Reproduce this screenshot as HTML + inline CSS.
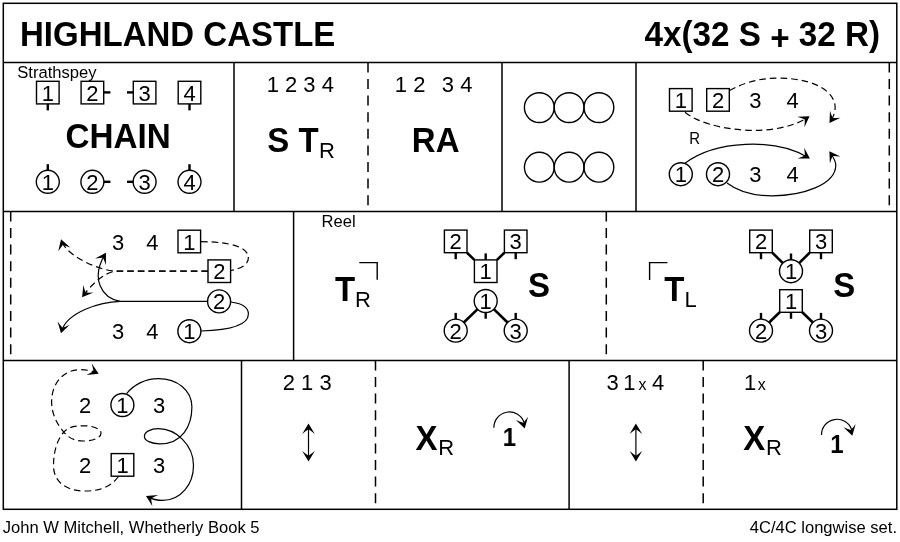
<!DOCTYPE html>
<html lang="en"><head><meta charset="utf-8"><title>Highland Castle</title>
<style>
html,body{margin:0;padding:0;background:#fff;}
svg{display:block;will-change:transform;}
text{font-family:"Liberation Sans", sans-serif;fill:#000;}
.fr{fill:none;stroke:#000;stroke-width:1.5;}
.da{fill:none;stroke:#000;stroke-width:1.5;stroke-dasharray:10 6.6;}
.ln{fill:none;stroke:#000;stroke-width:1.4;}
.cv{fill:none;stroke:#000;stroke-width:1.2;}
.dl{fill:none;stroke:#000;stroke-width:1.2;stroke-dasharray:6.6 4;}
.big{font-size:33px;font-weight:bold;}
.big2{font-size:33.25px;font-weight:bold;}
.n{font-size:22px;text-anchor:middle;}
.sub{font-size:22px;}
.sm{font-size:16.6px;}
.sm2{font-size:16.6px;}
.ft{font-size:16.58px;}
.r14{font-size:15px;}
.x13{font-size:16px;}
.b1{font-size:24px;font-weight:bold;}
</style></head>
<body>
<svg width="900" height="542" viewBox="0 0 900 542">
<defs>
<marker id="ah" markerUnits="userSpaceOnUse" markerWidth="16" markerHeight="16" viewBox="-12 -8 16 16" refX="-1.5" refY="0" orient="auto-start-reverse">
<path d="M0,0 L-10.5,6.3 Q-7,2 -5.8,0 Q-7,-2 -10.5,-6.3 Z" fill="#000"/>
</marker>
</defs>
<rect x="0" y="0" width="900" height="542" fill="#fff"/>
<rect x="3.3" y="3.3" width="893.5" height="506.0" class="fr"/>
<line x1="3.3" y1="62.4" x2="896.8" y2="62.4" class="fr"/>
<line x1="3.3" y1="211.4" x2="896.8" y2="211.4" class="fr"/>
<line x1="3.3" y1="360.4" x2="896.8" y2="360.4" class="fr"/>
<line x1="234" y1="62.4" x2="234" y2="211.4" class="fr"/>
<line x1="502" y1="62.4" x2="502" y2="211.4" class="fr"/>
<line x1="636" y1="62.4" x2="636" y2="211.4" class="fr"/>
<line x1="368" y1="62.4" x2="368" y2="211.4" class="da"/>
<line x1="889.3" y1="62.4" x2="889.3" y2="211.4" class="da"/>
<line x1="293.6" y1="211.4" x2="293.6" y2="360.4" class="fr"/>
<line x1="10.7" y1="211.4" x2="10.7" y2="360.4" class="da"/>
<line x1="606.3" y1="211.4" x2="606.3" y2="360.4" class="da"/>
<line x1="241.5" y1="360.4" x2="241.5" y2="509.3" class="fr"/>
<line x1="569.1" y1="360.4" x2="569.1" y2="509.3" class="fr"/>
<line x1="375.5" y1="360.4" x2="375.5" y2="509.3" class="da"/>
<line x1="703.2" y1="360.4" x2="703.2" y2="509.3" class="da"/>
<text transform="translate(20 46) scale(1 1.045)" class="big">HIGHLAND CASTLE</text>
<text transform="translate(880.1 46) scale(1 1.045)" class="big2" style="text-anchor:end">4x(32 S <tspan dy="4.1">+</tspan><tspan dy="-4.1"> 32 R)</tspan></text>
<text transform="translate(2.7 532.5) scale(1 1.045)" class="ft">John W Mitchell, Whetherly Book 5</text>
<text transform="translate(897 532.5) scale(1 1.045)" class="ft" style="text-anchor:end">4C/4C longwise set.</text>
<text transform="translate(17.2 77.7) scale(1 1.045)" class="sm">Strathspey</text>
<text transform="translate(321.6 226.7) scale(1 1.045)" class="sm2">Reel</text>
<rect x="36.50" y="81.30" width="22.6" height="22.6" class="ln"/>
<text transform="translate(47.8 100.6) scale(1 1.045)" class="n">1</text>
<circle cx="47.80" cy="181.80" r="11.5" class="ln"/>
<text transform="translate(47.8 189.8) scale(1 1.045)" class="n">1</text>
<rect x="81.10" y="81.30" width="22.6" height="22.6" class="ln"/>
<text transform="translate(92.4 100.6) scale(1 1.045)" class="n">2</text>
<circle cx="92.40" cy="181.80" r="11.5" class="ln"/>
<text transform="translate(92.4 189.8) scale(1 1.045)" class="n">2</text>
<rect x="133.30" y="81.30" width="22.6" height="22.6" class="ln"/>
<text transform="translate(144.6 100.6) scale(1 1.045)" class="n">3</text>
<circle cx="144.60" cy="181.80" r="11.5" class="ln"/>
<text transform="translate(144.6 189.8) scale(1 1.045)" class="n">3</text>
<rect x="178.20" y="81.30" width="22.6" height="22.6" class="ln"/>
<text transform="translate(189.5 100.6) scale(1 1.045)" class="n">4</text>
<circle cx="189.50" cy="181.80" r="11.5" class="ln"/>
<text transform="translate(189.5 189.8) scale(1 1.045)" class="n">4</text>
<line x1="47.80" y1="104.00" x2="47.80" y2="110.40" stroke="#000" stroke-width="2.4"/>
<line x1="189.50" y1="104.00" x2="189.50" y2="110.40" stroke="#000" stroke-width="2.4"/>
<line x1="104.00" y1="92.40" x2="110.40" y2="92.40" stroke="#000" stroke-width="2.4"/>
<line x1="127.00" y1="92.40" x2="133.30" y2="92.40" stroke="#000" stroke-width="2.4"/>
<line x1="47.80" y1="164.20" x2="47.80" y2="170.30" stroke="#000" stroke-width="2.4"/>
<line x1="189.50" y1="164.20" x2="189.50" y2="170.30" stroke="#000" stroke-width="2.4"/>
<line x1="104.00" y1="181.80" x2="110.40" y2="181.80" stroke="#000" stroke-width="2.4"/>
<line x1="127.00" y1="181.80" x2="133.30" y2="181.80" stroke="#000" stroke-width="2.4"/>
<text transform="translate(118.2 147.5) scale(1 1.045)" class="big2" style="text-anchor:middle">CHAIN</text>
<text transform="translate(300.3 92.4) scale(1 1.045)" class="n">1 2 3 4</text>
<text transform="translate(267.3 152) scale(1 1.045)" class="big">S T</text>
<text transform="translate(319 157.7) scale(1 1.045)" class="sub">R</text>
<text transform="translate(394.8 92.4) scale(1 1.045)" class="n" style="text-anchor:start">1 2</text>
<text transform="translate(472.4 92.4) scale(1 1.045)" class="n" style="text-anchor:end">3 4</text>
<text transform="translate(435.7 152) scale(1 1.045)" class="big" style="text-anchor:middle">RA</text>
<circle cx="539.3" cy="107.6" r="14.9" class="ln"/>
<circle cx="569.1" cy="107.6" r="14.9" class="ln"/>
<circle cx="598.9" cy="107.6" r="14.9" class="ln"/>
<circle cx="539.3" cy="167.2" r="14.9" class="ln"/>
<circle cx="569.1" cy="167.2" r="14.9" class="ln"/>
<circle cx="598.9" cy="167.2" r="14.9" class="ln"/>
<rect x="669.50" y="88.60" width="22.6" height="22.6" class="ln"/>
<text transform="translate(680.8 107.9) scale(1 1.045)" class="n">1</text>
<rect x="706.70" y="88.60" width="22.6" height="22.6" class="ln"/>
<text transform="translate(718 107.9) scale(1 1.045)" class="n">2</text>
<text transform="translate(755.3 107.9) scale(1 1.045)" class="n">3</text>
<text transform="translate(792.6 107.9) scale(1 1.045)" class="n">4</text>
<circle cx="680.80" cy="174.20" r="11.5" class="ln"/>
<text transform="translate(680.8 182.2) scale(1 1.045)" class="n">1</text>
<circle cx="718.00" cy="174.20" r="11.5" class="ln"/>
<text transform="translate(718 182.2) scale(1 1.045)" class="n">2</text>
<text transform="translate(755.3 182.2) scale(1 1.045)" class="n">3</text>
<text transform="translate(792.6 182.2) scale(1 1.045)" class="n">4</text>
<text transform="translate(689.3 144.3) scale(1 1.045)" class="r14">R</text>
<path d="M729.5,90.5 C744,82.5 760,78.1 778,78.1 C800,78.1 818,83 828,92.5 C836,100 838,110 830.3,121.7" class="dl" marker-end="url(#ah)"/>
<path d="M685,112.3 C708,131.2 776,139 808.3,117" class="dl" marker-end="url(#ah)"/>
<path d="M685,163.3 C715,140.5 775,137.5 808.6,157.8" class="cv" marker-end="url(#ah)"/>
<path d="M727,183 C738,191.5 753,195.8 772,195.8 C802,195.8 835.8,185 835.8,165 C835.8,161.5 833.5,157.5 830.2,152.5" class="cv" marker-end="url(#ah)"/>
<text transform="translate(118 249.5) scale(1 1.045)" class="n">3</text>
<text transform="translate(152.4 249.5) scale(1 1.045)" class="n">4</text>
<rect x="178.00" y="230.20" width="22.6" height="22.6" class="ln"/>
<text transform="translate(189.3 249.5) scale(1 1.045)" class="n">1</text>
<rect x="208.00" y="259.90" width="22.6" height="22.6" class="ln"/>
<text transform="translate(219.3 279.2) scale(1 1.045)" class="n">2</text>
<circle cx="219.10" cy="301.40" r="11.5" class="ln"/>
<text transform="translate(219.1 309.4) scale(1 1.045)" class="n">2</text>
<text transform="translate(118 339.2) scale(1 1.045)" class="n">3</text>
<text transform="translate(152.4 339.2) scale(1 1.045)" class="n">4</text>
<circle cx="189.40" cy="331.20" r="11.5" class="ln"/>
<text transform="translate(189.4 339.2) scale(1 1.045)" class="n">1</text>
<path d="M201,241.7 C232,241.7 248.4,248 248.4,257.5 C248.4,264 243,268 231,270.5" class="dl"/>
<path d="M208,271.1 L116,271.1 C100,271.1 66.3,255.8 61.5,240.8" class="dl" marker-end="url(#ah)"/>
<path d="M208,271.1 L118,271.1 C105,271.1 92,284 83,296" class="dl" marker-end="url(#ah)"/>
<path d="M201,331 C232,330 248.4,324 248.4,314 C248.4,307 243,303.5 230.7,302" class="cv"/>
<path d="M207.5,301.4 L120,301.4" class="cv"/>
<path d="M120,301.4 C102,298 90,279 105.2,254" class="cv" marker-end="url(#ah)"/>
<path d="M120,301.4 C101,301.8 66.5,312 61.4,331.8" class="cv" marker-end="url(#ah)"/>
<rect x="444.40" y="230.10" width="22.6" height="22.6" class="ln"/>
<text transform="translate(455.7 249.4) scale(1 1.045)" class="n">2</text>
<rect x="504.40" y="230.10" width="22.6" height="22.6" class="ln"/>
<text transform="translate(515.7 249.4) scale(1 1.045)" class="n">3</text>
<line x1="455.70" y1="252.70" x2="455.70" y2="259.20" stroke="#000" stroke-width="2.4"/>
<line x1="515.70" y1="252.70" x2="515.70" y2="259.20" stroke="#000" stroke-width="2.4"/>
<circle cx="455.70" cy="330.60" r="11.5" class="ln"/>
<text transform="translate(455.7 338.6) scale(1 1.045)" class="n">2</text>
<circle cx="515.70" cy="330.60" r="11.5" class="ln"/>
<text transform="translate(515.7 338.6) scale(1 1.045)" class="n">3</text>
<line x1="455.70" y1="319.10" x2="455.70" y2="312.90" stroke="#000" stroke-width="2.4"/>
<line x1="515.70" y1="319.10" x2="515.70" y2="312.90" stroke="#000" stroke-width="2.4"/>
<rect x="474.40" y="259.90" width="22.6" height="22.6" class="ln"/>
<text transform="translate(485.7 279.2) scale(1 1.045)" class="n">1</text>
<circle cx="485.70" cy="301.00" r="11.5" class="ln"/>
<text transform="translate(485.7 309) scale(1 1.045)" class="n">1</text>
<line x1="485.70" y1="259.90" x2="485.70" y2="253.40" stroke="#000" stroke-width="2.4"/>
<line x1="485.70" y1="312.50" x2="485.70" y2="318.70" stroke="#000" stroke-width="2.4"/>
<line x1="467.00" y1="252.70" x2="474.40" y2="259.90" stroke="#000" stroke-width="2.6"/>
<line x1="504.40" y1="252.70" x2="497.00" y2="259.90" stroke="#000" stroke-width="2.6"/>
<line x1="477.60" y1="309.10" x2="463.80" y2="322.50" stroke="#000" stroke-width="2.6"/>
<line x1="493.80" y1="309.10" x2="507.60" y2="322.50" stroke="#000" stroke-width="2.6"/>
<rect x="749.70" y="230.10" width="22.6" height="22.6" class="ln"/>
<text transform="translate(761 249.4) scale(1 1.045)" class="n">2</text>
<rect x="809.70" y="230.10" width="22.6" height="22.6" class="ln"/>
<text transform="translate(821 249.4) scale(1 1.045)" class="n">3</text>
<line x1="761.00" y1="252.70" x2="761.00" y2="259.20" stroke="#000" stroke-width="2.4"/>
<line x1="821.00" y1="252.70" x2="821.00" y2="259.20" stroke="#000" stroke-width="2.4"/>
<circle cx="761.00" cy="330.60" r="11.5" class="ln"/>
<text transform="translate(761 338.6) scale(1 1.045)" class="n">2</text>
<circle cx="821.00" cy="330.60" r="11.5" class="ln"/>
<text transform="translate(821 338.6) scale(1 1.045)" class="n">3</text>
<line x1="761.00" y1="319.10" x2="761.00" y2="312.90" stroke="#000" stroke-width="2.4"/>
<line x1="821.00" y1="319.10" x2="821.00" y2="312.90" stroke="#000" stroke-width="2.4"/>
<circle cx="791.00" cy="271.20" r="11.5" class="ln"/>
<text transform="translate(791 279.2) scale(1 1.045)" class="n">1</text>
<rect x="779.70" y="289.70" width="22.6" height="22.6" class="ln"/>
<text transform="translate(791 309) scale(1 1.045)" class="n">1</text>
<line x1="791.00" y1="259.70" x2="791.00" y2="253.50" stroke="#000" stroke-width="2.4"/>
<line x1="791.00" y1="312.30" x2="791.00" y2="318.80" stroke="#000" stroke-width="2.4"/>
<line x1="772.30" y1="252.70" x2="782.90" y2="263.10" stroke="#000" stroke-width="2.6"/>
<line x1="809.70" y1="252.70" x2="799.10" y2="263.10" stroke="#000" stroke-width="2.6"/>
<line x1="779.70" y1="312.30" x2="769.10" y2="322.50" stroke="#000" stroke-width="2.6"/>
<line x1="802.30" y1="312.30" x2="812.90" y2="322.50" stroke="#000" stroke-width="2.6"/>
<text transform="translate(334.9 301) scale(1 1.045)" class="big">T</text>
<text transform="translate(354.9 306.8) scale(1 1.045)" class="sub">R</text>
<path d="M359.3,262.6 L377.2,262.6 L377.2,279.8" class="ln"/>
<text transform="translate(528 296.6) scale(1 1.045)" class="big">S</text>
<path d="M649.6,280 L649.6,262.6 L667.4,262.6" class="ln"/>
<text transform="translate(664.3 301) scale(1 1.045)" class="big">T</text>
<text transform="translate(684.4 306.8) scale(1 1.045)" class="sub">L</text>
<text transform="translate(833.2 296.6) scale(1 1.045)" class="big">S</text>
<text transform="translate(85 413) scale(1 1.045)" class="n">2</text>
<circle cx="122.40" cy="405.00" r="11.5" class="ln"/>
<text transform="translate(122.4 413) scale(1 1.045)" class="n">1</text>
<text transform="translate(159.2 413) scale(1 1.045)" class="n">3</text>
<text transform="translate(85 472.9) scale(1 1.045)" class="n">2</text>
<rect x="111.20" y="453.60" width="22.6" height="22.6" class="ln"/>
<text transform="translate(122.5 472.9) scale(1 1.045)" class="n">1</text>
<text transform="translate(159.2 472.9) scale(1 1.045)" class="n">3</text>
<path d="M126.6,393.6 C133.5,385 145,378.6 158.4,378.6 C177,378.6 191.9,390 191.9,406.9 C191.9,426 182,443.8 159.9,443.8 C151,443.8 144.4,440.5 144.4,436.4 C144.4,432 150.5,428.7 158.4,428.7 C176,428.7 193.5,445 193.5,465.4 C193.5,484 181,500.4 162.5,500.4 C156,500.4 151,498.5 147.3,496.6" class="cv" marker-end="url(#ah)"/>
<path d="M118.5,476.5 C110,488 98,491 85,491 C64,491 53.5,480 53.5,466 C53.5,452 57,440 63.5,432.5 C68,427 75,425.8 83.5,425.8 C94,425.8 101,429 101,433.2 C101,437.5 94,441 83.5,441 C74,441 69,438 64,432.3 C57,424 51.6,414 51.6,401.5 C51.6,384 63,369.7 80,369.7 C87,369.7 93,371 97.3,373" class="dl" marker-end="url(#ah)"/>
<text transform="translate(307.2 390.4) scale(1 1.045)" class="n">2 1 3</text>
<path d="M308.5,425 L308.5,460" class="cv" marker-end="url(#ah)" marker-start="url(#ah)"/>
<text transform="translate(415.5 449.8) scale(1 1.045)" class="big">X</text>
<text transform="translate(438.3 455.4) scale(1 1.045)" class="sub">R</text>
<text transform="translate(509.4 445.6) scale(1 1.045)" class="b1" style="text-anchor:middle">1</text>
<path d="M493.90,427.70 A15.5,15.5 0 0 1 523.97,422.20" class="cv"/>
<path d="M0,0 L-10.5,6.3 Q-7,2 -5.8,0 Q-7,-2 -10.5,-6.3 Z" fill="#000" transform="translate(524.7 428.4) rotate(75)"/>
<text transform="translate(606.5 390.4) scale(1 1.045)" class="n" style="text-anchor:start">3</text>
<text transform="translate(623.3 390.4) scale(1 1.045)" class="n" style="text-anchor:start">1</text>
<text transform="translate(638.6 390.4) scale(1 1.045)" class="x13">x</text>
<text transform="translate(652 390.4) scale(1 1.045)" class="n" style="text-anchor:start">4</text>
<path d="M635.9,425 L635.9,460" class="cv" marker-end="url(#ah)" marker-start="url(#ah)"/>
<text transform="translate(744 390.4) scale(1 1.045)" class="n" style="text-anchor:start">1</text>
<text transform="translate(757.7 390.4) scale(1 1.045)" class="x13">x</text>
<text transform="translate(743.3 449.8) scale(1 1.045)" class="big">X</text>
<text transform="translate(766 455.4) scale(1 1.045)" class="sub">R</text>
<text transform="translate(837 452.9) scale(1 1.045)" class="b1" style="text-anchor:middle">1</text>
<path d="M821.50,435.00 A15.5,15.5 0 0 1 851.57,429.50" class="cv"/>
<path d="M0,0 L-10.5,6.3 Q-7,2 -5.8,0 Q-7,-2 -10.5,-6.3 Z" fill="#000" transform="translate(852.3 435.7) rotate(75)"/>
</svg>
</body></html>
